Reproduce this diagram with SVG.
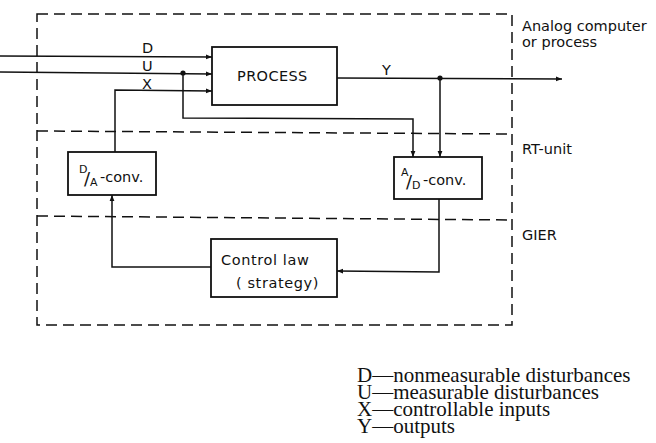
<svg xmlns="http://www.w3.org/2000/svg" width="656" height="443" viewBox="0 0 656 443">
<style>
.dash{fill:none;stroke:#111;stroke-width:1.5;stroke-dasharray:11 6}
.box{fill:#fff;stroke:#111;stroke-width:1.8}
.ln{fill:none;stroke:#111;stroke-width:1.5}
.t{font-family:"DejaVu Sans","Liberation Sans",sans-serif;font-size:14.5px;fill:#111}
.b{font-family:"DejaVu Sans","Liberation Sans",sans-serif;font-size:14.5px;fill:#111;letter-spacing:0.4px}
.c{font-family:"DejaVu Sans","Liberation Sans",sans-serif;font-size:14.5px;fill:#111;letter-spacing:0.6px}
.s{font-family:"DejaVu Sans","Liberation Sans",sans-serif;font-size:11px;fill:#111}
.sl{font-family:"DejaVu Sans","Liberation Sans",sans-serif;font-size:18px;fill:#111}
.lg{font-family:"Liberation Serif",serif;font-size:21px;fill:#111}
</style>
<defs>
<marker id="ah" viewBox="0 0 10 10" refX="10" refY="5" markerWidth="11" markerHeight="6" markerUnits="userSpaceOnUse" orient="auto">
<path d="M0,1 L10,5 L0,9 Z" fill="#111"/>
</marker>
</defs>
<g id="regions">
<rect class="dash" x="37" y="14" width="475" height="311"/>
<line class="dash" x1="37" y1="131" x2="512" y2="134"/>
<line class="dash" x1="37" y1="216" x2="512" y2="220"/>
<text class="t" x="522" y="31">Analog computer</text>
<text class="t" x="522" y="47">or process</text>
<text class="t" x="522" y="154">RT-unit</text>
<text class="t" x="522" y="240">GIER</text>
</g>
<g id="connectors">
<line class="ln" x1="0" y1="56" x2="212" y2="57" marker-end="url(#ah)"/>
<line class="ln" x1="0" y1="72" x2="212" y2="74" marker-end="url(#ah)"/>
<polyline class="ln" points="115,152 115,90 212,91" marker-end="url(#ah)"/>
<polyline class="ln" points="183,73 183,118 413,119 413,157" marker-end="url(#ah)"/>
<line class="ln" x1="337" y1="78" x2="562" y2="79" marker-end="url(#ah)"/>
<polyline class="ln" points="440,78 440,157" marker-end="url(#ah)"/>
<polyline class="ln" points="439,199 439,272 337,271" marker-end="url(#ah)"/>
<polyline class="ln" points="211,267 112,267 112,195" marker-end="url(#ah)"/>
<circle cx="183" cy="73" r="2.6" fill="#111"/>
<circle cx="440" cy="78" r="2.6" fill="#111"/>
<text class="t" x="142" y="53">D</text>
<text class="t" x="142" y="71">U</text>
<text class="t" x="142" y="89">X</text>
<text class="t" x="382" y="75">Y</text>
</g>
<g id="process">
<rect class="box" x="212" y="47" width="125" height="58"/>
<text class="b" x="237" y="81">PROCESS</text>
</g>
<g id="da-conv">
<rect class="box" x="68" y="152" width="88" height="43"/>
<text class="s" x="79" y="173">D</text>
<text class="sl" x="84" y="185">/</text>
<text class="s" x="90" y="186">A</text>
<text class="t" x="100" y="182">-conv.</text>
</g>
<g id="ad-conv">
<rect class="box" x="394" y="157" width="88" height="42"/>
<text class="s" x="401" y="176">A</text>
<text class="sl" x="406" y="188">/</text>
<text class="s" x="412" y="189">D</text>
<text class="t" x="423" y="185">-conv.</text>
</g>
<g id="control-law">
<rect class="box" x="211" y="239" width="126" height="58"/>
<text class="c" x="221" y="265">Control law</text>
<text class="c" x="236" y="288">( strategy)</text>
</g>
<g id="legend">
<text class="lg" x="357" y="382">D—nonmeasurable disturbances</text>
<text class="lg" x="357" y="399">U—measurable disturbances</text>
<text class="lg" x="357" y="416">X—controllable inputs</text>
<text class="lg" x="357" y="433">Y—outputs</text>
</g>
</svg>
